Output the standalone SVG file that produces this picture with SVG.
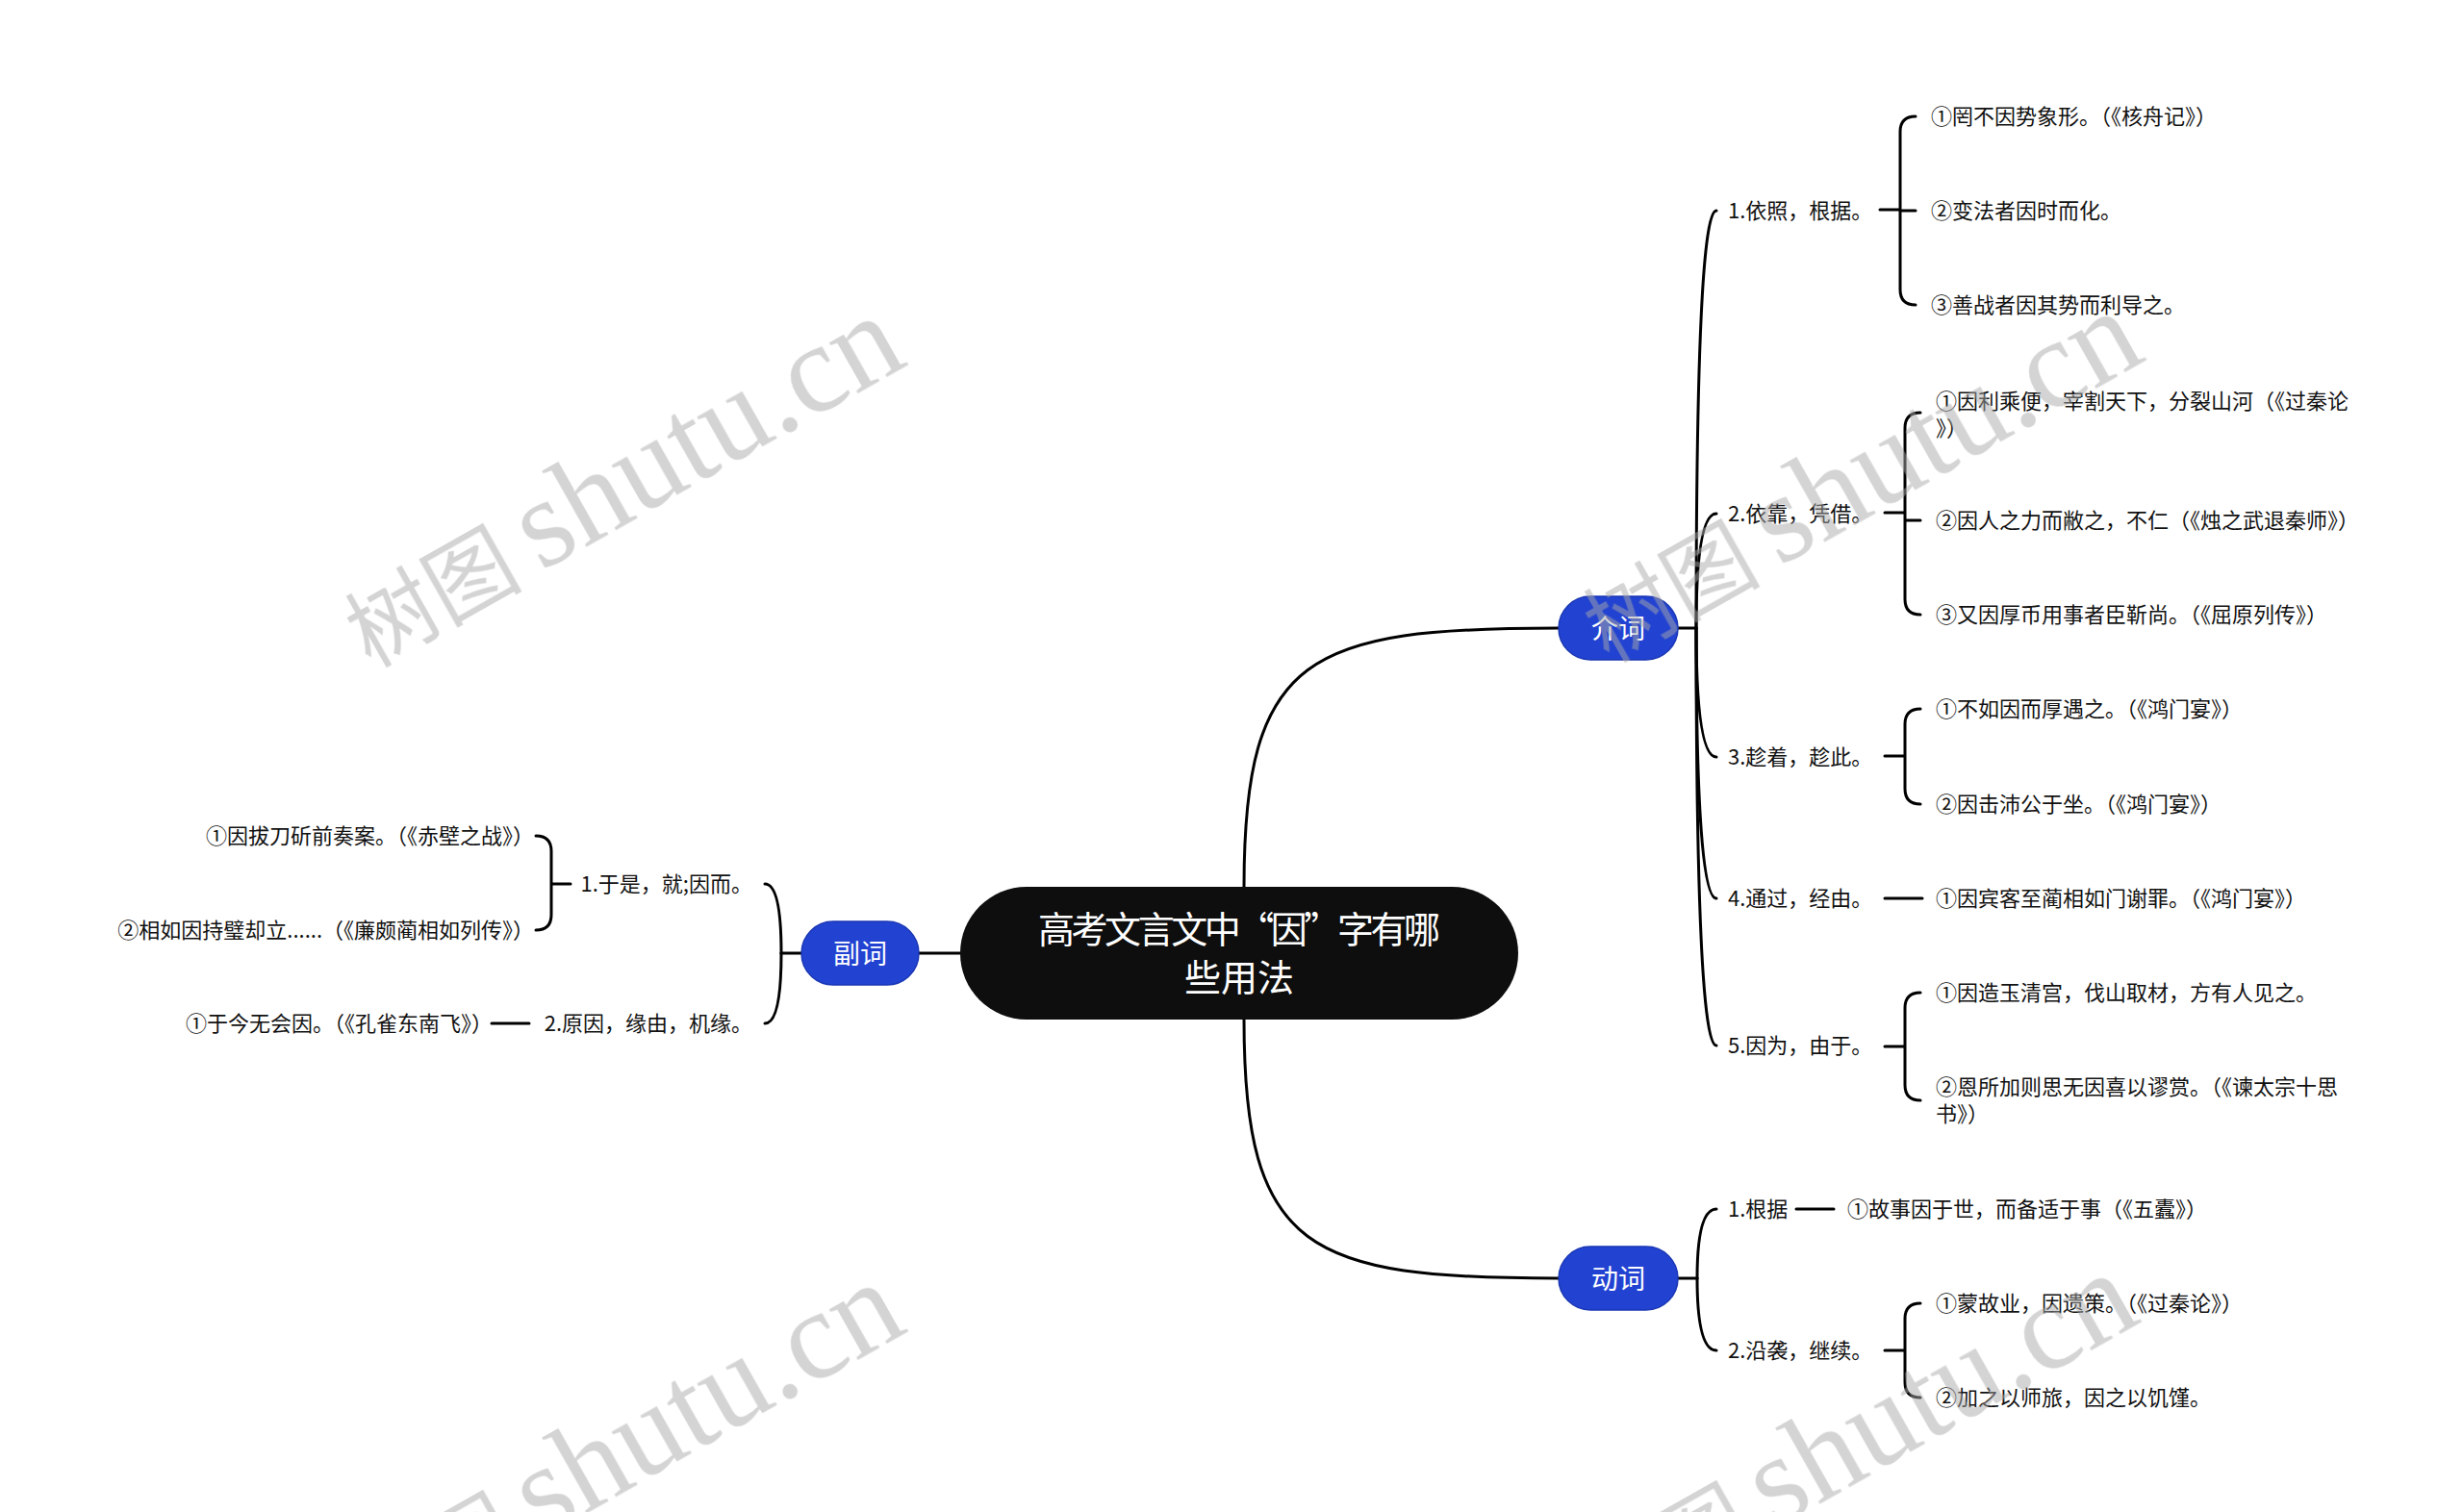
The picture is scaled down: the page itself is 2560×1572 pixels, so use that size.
<svg xmlns="http://www.w3.org/2000/svg" width="2560" height="1572" viewBox="0 0 2560 1572">
<style>
.ln{fill:none;stroke:#000;stroke-width:3;stroke-linecap:round;stroke-linejoin:round}
.t{font-family:"Noto Sans CJK SC","Noto Sans",sans-serif;font-size:22px;fill:#111}
.e{text-anchor:end}
.blue{fill:#2243D2;stroke:#1a37b4;stroke-width:1.5}
.bt{font-family:"Noto Sans CJK SC","Noto Sans",sans-serif;font-size:28px;fill:#fff;text-anchor:middle}
.rt{font-family:"Noto Sans CJK SC","Noto Sans",sans-serif;font-size:38px;fill:#fff;text-anchor:middle}
.wm{font-family:"Liberation Serif","Noto Sans CJK SC",serif;fill:#a8a8a8;opacity:0.5}
</style>
<rect width="2560" height="1572" fill="#fff"/>
<g id="connectors">
  <path class="ln" d="M1293,922 C1293,680 1360,653 1620,653"/>
  <path class="ln" d="M1293,1060 C1293,1302 1360,1329 1620,1329"/>
  <path class="ln" d="M955,991 H998"/>
  <path class="ln" d="M1744,653 H1763"/>
  <path class="ln" d="M1763,653 Q1763,219 1784,219"/>
  <path class="ln" d="M1763,653 Q1763,534 1784,534"/>
  <path class="ln" d="M1763,653 Q1763,787 1784,787"/>
  <path class="ln" d="M1763,653 Q1763,934 1784,934"/>
  <path class="ln" d="M1763,653 Q1763,1087 1784,1087"/>
  <path class="ln" d="M1954,218 H1975 M1991,121 Q1975,121 1975,137 V301 Q1975,317 1991,317 M1975,219 H1991"/>
  <path class="ln" d="M1959,533 H1980 M1996,429 Q1980,429 1980,445 V623 Q1980,639 1996,639 M1980,541 H1996"/>
  <path class="ln" d="M1959,786 H1980 M1996,737 Q1980,737 1980,753 V820 Q1980,836 1996,836"/>
  <path class="ln" d="M1959,934 H1998"/>
  <path class="ln" d="M1959,1088 H1980 M1996,1032 Q1980,1032 1980,1048 V1128 Q1980,1144 1996,1144"/>
  <path class="ln" d="M1744,1329 H1764"/>
  <path class="ln" d="M1764,1329 Q1764,1257 1784,1257"/>
  <path class="ln" d="M1764,1329 Q1764,1404 1784,1404"/>
  <path class="ln" d="M1867,1257 H1906"/>
  <path class="ln" d="M1959,1404 H1980 M1996,1355 Q1980,1355 1980,1371 V1437 Q1980,1453 1996,1453"/>
  <path class="ln" d="M833,991 H812"/>
  <path class="ln" d="M812,991 Q812,919 795,919"/>
  <path class="ln" d="M812,991 Q812,1064 795,1064"/>
  <path class="ln" d="M593,919 H573 M557,869 Q573,869 573,885 V951 Q573,967 557,967"/>
  <path class="ln" d="M550,1064 H511"/>
</g>
<g id="root">
  <rect x="998" y="922" width="580" height="138" rx="69" fill="#0e0e0e"/>
  <text class="rt" x="1288" y="980" textLength="418" lengthAdjust="spacing">高考文言文中“因”字有哪</text>
  <text class="rt" x="1288" y="1030">些用法</text>
</g>
<g id="jieci">
  <rect class="blue" x="1620" y="620" width="124" height="66" rx="33"/>
  <text class="bt" x="1682" y="664">介词</text>
</g>
<g id="dongci">
  <rect class="blue" x="1620" y="1296" width="124" height="66" rx="33"/>
  <text class="bt" x="1682" y="1340">动词</text>
</g>
<g id="fuci">
  <rect class="blue" x="833" y="958" width="122" height="66" rx="33"/>
  <text class="bt" x="894" y="1002">副词</text>
</g>
<g id="j1"><text class="t" x="1796" y="227">1.依照，根据。</text></g>
<g id="j1a"><text class="t" x="2007" y="129">①罔不因势象形。（《核舟记》）</text></g>
<g id="j1b"><text class="t" x="2007" y="227">②变法者因时而化。</text></g>
<g id="j1c"><text class="t" x="2007" y="325">③善战者因其势而利导之。</text></g>
<g id="j2"><text class="t" x="1796" y="542">2.依靠，凭借。</text></g>
<g id="j2a"><text class="t" x="2012" y="425">①因利乘便，宰割天下，分裂山河（《过秦论</text><text class="t" x="2012" y="453">》）</text></g>
<g id="j2b"><text class="t" x="2012" y="549">②因人之力而敝之，不仁（《烛之武退秦师》）</text></g>
<g id="j2c"><text class="t" x="2012" y="647">③又因厚币用事者臣靳尚。（《屈原列传》）</text></g>
<g id="j3"><text class="t" x="1796" y="795">3.趁着，趁此。</text></g>
<g id="j3a"><text class="t" x="2012" y="745">①不如因而厚遇之。（《鸿门宴》）</text></g>
<g id="j3b"><text class="t" x="2012" y="844">②因击沛公于坐。（《鸿门宴》）</text></g>
<g id="j4"><text class="t" x="1796" y="942">4.通过，经由。</text></g>
<g id="j4a"><text class="t" x="2012" y="942">①因宾客至蔺相如门谢罪。（《鸿门宴》）</text></g>
<g id="j5"><text class="t" x="1796" y="1095">5.因为，由于。</text></g>
<g id="j5a"><text class="t" x="2012" y="1040">①因造玉清宫，伐山取材，方有人见之。</text></g>
<g id="j5b"><text class="t" x="2012" y="1138">②恩所加则思无因喜以谬赏。（《谏太宗十思</text><text class="t" x="2012" y="1166">书》）</text></g>
<g id="d1"><text class="t" x="1796" y="1265">1.根据</text></g>
<g id="d1a"><text class="t" x="1920" y="1265">①故事因于世，而备适于事（《五蠹》）</text></g>
<g id="d2"><text class="t" x="1796" y="1412">2.沿袭，继续。</text></g>
<g id="d2a"><text class="t" x="2012" y="1363">①蒙故业，因遗策。（《过秦论》）</text></g>
<g id="d2b"><text class="t" x="2012" y="1461">②加之以师旅，因之以饥馑。</text></g>
<g id="f1"><text class="t e" x="782" y="927">1.于是，就;因而。</text></g>
<g id="f1a"><text class="t e" x="555" y="877">①因拔刀斫前奏案。（《赤壁之战》）</text></g>
<g id="f1b"><text class="t e" x="555" y="975">②相如因持璧却立......（《廉颇蔺相如列传》）</text></g>
<g id="f2"><text class="t e" x="782" y="1072">2.原因，缘由，机缘。</text></g>
<g id="f2a"><text class="t e" x="512" y="1072">①于今无会因。（《孔雀东南飞》）</text></g>
<g id="watermark" class="wm">
  <text transform="translate(385,695) rotate(-29.5)"><tspan x="0" font-size="92">树图</tspan><tspan x="204" font-size="131">shutu.cn</tspan></text>
  <text transform="translate(1672,690) rotate(-29.5)"><tspan x="0" font-size="92">树图</tspan><tspan x="204" font-size="131">shutu.cn</tspan></text>
  <text transform="translate(385,1700) rotate(-29.5)"><tspan x="0" font-size="92">树图</tspan><tspan x="204" font-size="131">shutu.cn</tspan></text>
  <text transform="translate(1667,1690) rotate(-29.5)"><tspan x="0" font-size="92">树图</tspan><tspan x="204" font-size="131">shutu.cn</tspan></text>
</g>
</svg>
